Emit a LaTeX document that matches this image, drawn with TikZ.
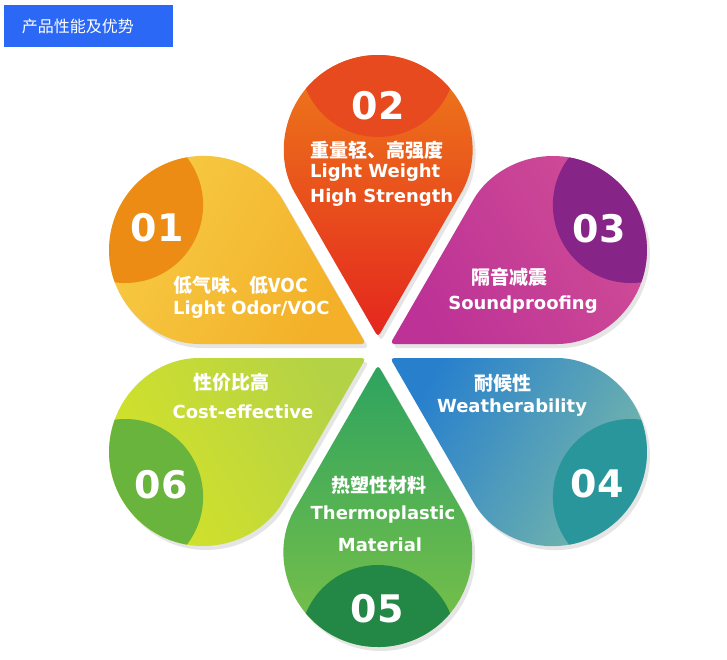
\documentclass[tikz,border=0pt]{standalone}
\usepackage{fontspec,xcolor,tikz}
\setmainfont{DejaVu Sans}
\newfontfamily\cjk{Noto Sans CJK SC}

\definecolor{headBlue}{RGB}{42,104,245}
\definecolor{oneOuter}{RGB}{247,204,70}
\definecolor{oneTip}{RGB}{243,176,40}
\definecolor{oneDisc}{RGB}{236,140,20}
\definecolor{twoOuter}{RGB}{238,128,26}
\definecolor{twoTip}{RGB}{228,38,30}
\definecolor{twoDisc}{RGB}{231,74,30}
\definecolor{threeOuter}{RGB}{208,76,150}
\definecolor{threeTip}{RGB}{188,50,150}
\definecolor{threeDisc}{RGB}{135,36,135}
\definecolor{fourOuter}{RGB}{122,186,168}
\definecolor{fourTip}{RGB}{40,128,205}
\definecolor{fourDisc}{RGB}{40,150,155}
\definecolor{fiveOuter}{RGB}{128,195,70}
\definecolor{fiveTip}{RGB}{45,163,95}
\definecolor{fiveDisc}{RGB}{35,135,70}
\definecolor{sixOuter}{RGB}{212,226,40}
\definecolor{sixTip}{RGB}{180,210,70}
\definecolor{sixDisc}{RGB}{105,180,60}

% one drop: tip near the centre, round end outwards
\newcommand{\petalpath}[1]{[rounded corners=4pt] (#1:14) -- ([shift={(#1:202)}]#1-120:94) arc[start angle=#1-120, end angle=#1+120, radius=94pt] -- cycle}
\newcommand{\petal}[4]{%
	\fill[black!10, shift={(3,-4)}] \petalpath{#1};
	\shade[top color=#2, bottom color=#3, shading angle=#1-90] \petalpath{#1};
	\begin{scope}
		\clip \petalpath{#1};
		\fill[#4] (#1:292) circle[radius=78pt];
	\end{scope}
}

\tikzset{
	cntext/.style={text=white, inner sep=0pt, font=\cjk\bfseries\fontsize{19}{19}\selectfont},
	entext/.style={text=white, inner sep=0pt, font=\bfseries\fontsize{18}{18}\selectfont},
	numtext/.style={text=white, inner sep=0pt, font=\bfseries\fontsize{38}{38}\selectfont},
}

\begin{document}
\begin{tikzpicture}[x=1pt, y=1pt]
			\useasboundingbox (-378,-308) rectangle (349,351);
			\fill[white] (-378,-308) rectangle (349,351);

			% heading
			\fill[headBlue] (-374,346) rectangle (-205,304);
			\draw (-300,325) node[text=white, font=\cjk\fontsize{16}{16}\selectfont] (head) {产品性能及优势};

			\petal{90}{twoOuter}{twoTip}{twoDisc}
			\petal{150}{oneOuter}{oneTip}{oneDisc}
			\petal{30}{threeOuter}{threeTip}{threeDisc}
			\petal{210}{sixOuter}{sixTip}{sixDisc}
			\petal{330}{fourOuter}{fourTip}{fourDisc}
			\petal{270}{fiveOuter}{fiveTip}{fiveDisc}

			\draw (-221,123) node[numtext] (n01) {01};
			\draw (0,245) node[numtext] (n02) {02};
			\draw (221,122) node[numtext] (n03) {03};
			\draw (219,-133) node[numtext] (n04) {04};
			\draw (-1,-258) node[numtext] (n05) {05};
			\draw (-217,-134) node[numtext] (n06) {06};

			\draw (-205,66) node[cntext, anchor=west] (odorCn) {低气味、低VOC};
			\draw (-205,41) node[entext, anchor=west] (odorEn) {Light Odor/VOC};

			\draw (-68,201) node[cntext, anchor=west] (weightCn) {重量轻、高强度};
			\draw (-68,178) node[entext, anchor=west] (weightEn) {Light Weight};
			\draw (-68,153) node[entext, anchor=west] (strengthEn) {High Strength};

			\draw (131,74) node[cntext] (soundCn) {隔音减震};
			\draw (145,46) node[entext] (soundEn) {Soundproofing};

			\draw (125,-32) node[cntext] (weatherCn) {耐候性};
			\draw (134,-57) node[entext] (weatherEn) {Weatherability};

			\draw (1,-134) node[cntext] (plasticCn) {热塑性材料};
			\draw (5,-164) node[entext] (plasticEn) {Thermoplastic};
			\draw (2,-194) node[entext] (materialEn) {Material};

			\draw (-146,-31) node[cntext] (costCn) {性价比高};
			\draw (-135,-61) node[entext] (costEn) {Cost-effective};
		\end{tikzpicture}
\end{document}
